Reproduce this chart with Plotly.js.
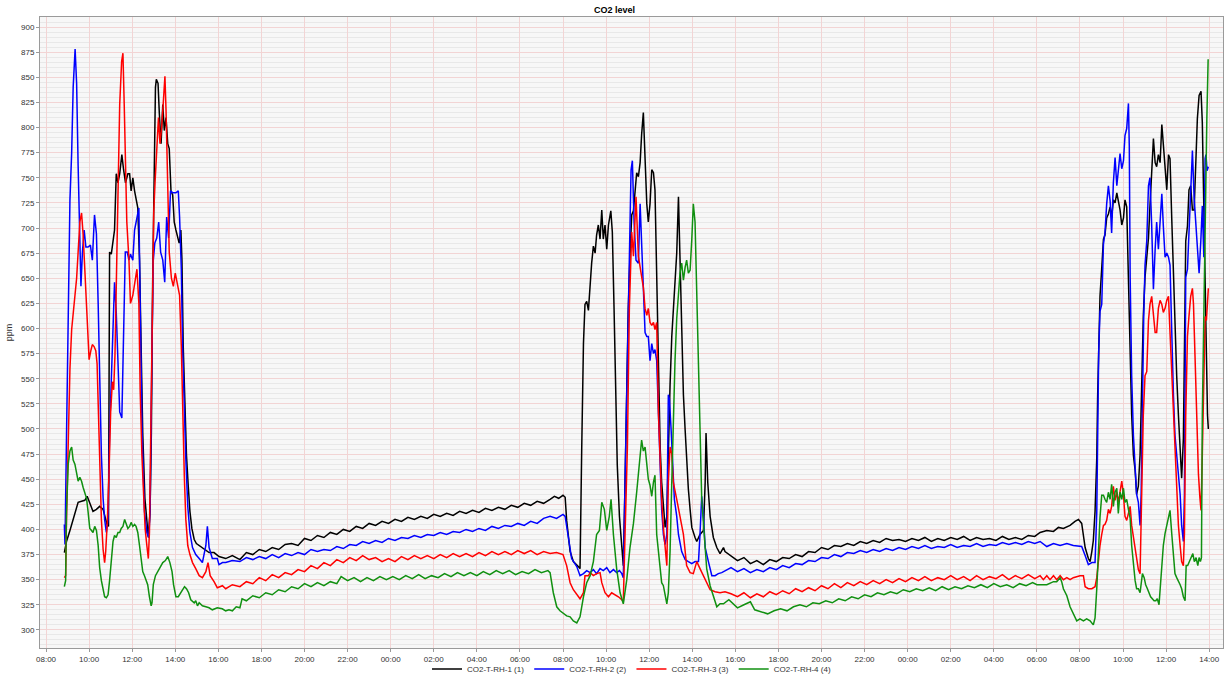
<!DOCTYPE html>
<html>
<head>
<meta charset="utf-8">
<script src="https://cdn.plot.ly/plotly-3.0.1.min.js"></script>
<style>html,body{margin:0;padding:0;background:#fff}#chart{width:1229px;height:679px}</style>
</head>
<body>
<div id="chart"></div>
<script>
// Values: [hours since day-1 00:00, ppm]
const seriesNames = ['CO2-T-RH-1 (1)', 'CO2-T-RH-2 (2)', 'CO2-T-RH-3 (3)', 'CO2-T-RH-4 (4)'];
const seriesColors = ['#000000', '#0000ff', '#ff0000', '#109010'];

const black = [
[8.85,377],[8.95,388],[9.11,399],[9.26,410],[9.38,420],[9.49,427],[9.65,428],[9.8,429],[9.91,433],[10.03,427],[10.18,418],[10.34,420],[10.49,423],[10.65,420],[10.72,414],[10.83,405],[10.9,403],[10.95,676],[11.03,674],[11.11,685],[11.18,698],[11.26,754],[11.34,745],[11.42,754],[11.52,773],[11.6,758],[11.69,745],[11.8,754],[11.88,754],[11.95,737],[12.03,750],[12.11,737],[12.18,728],[12.26,720],[12.34,668],[12.42,582],[12.49,496],[12.59,431],[12.68,405],[12.75,392],[12.83,418],[12.89,496],[12.95,646],[13.02,754],[13.08,840],[13.12,848],[13.2,844],[13.26,814],[13.34,784],[13.42,823],[13.49,797],[13.57,810],[13.65,784],[13.72,779],[13.8,737],[13.88,733],[13.95,706],[14.03,698],[14.11,690],[14.18,685],[14.26,698],[14.31,668],[14.37,582],[14.45,517],[14.52,474],[14.6,444],[14.68,418],[14.77,401],[14.88,390],[14.98,386],[15.11,384],[15.26,382],[15.42,380],[15.57,377],[15.8,377],[16.03,373],
[16.34,371],[16.65,374],[17.0,370],[17.3,377],[17.6,375],[17.9,380],[18.2,378],[18.5,382],[18.8,380],[19.1,385],[19.4,386],[19.7,384],[20.0,391],[20.3,389],[20.6,394],[20.9,392],[21.2,397],[21.5,395],[21.8,400],[22.1,398],[22.4,403],[22.7,401],[23.0,406],[23.3,404],[23.6,408],[23.9,406],[24.2,410],[24.5,408],[24.8,412],[25.1,410],[25.4,413],[25.7,411],[26.0,415],[26.3,413],[26.6,416],[26.9,414],[27.2,418],[27.5,416],[27.8,419],[28.1,417],[28.4,421],[28.7,419],[29.0,422],[29.3,420],[29.6,424],[29.9,422],[30.2,426],[30.5,424],[30.8,428],[31.1,426],[31.4,430],[31.6,433],[31.8,431],[32.0,434],[32.1,432],
[32.17,409],[32.33,378],[32.48,368],[32.71,363],[32.79,361],[32.87,482],[32.95,585],[33.02,624],[33.1,627],[33.18,618],[33.26,648],[33.33,665],[33.41,682],[33.49,675],[33.56,693],[33.64,703],[33.72,689],[33.8,718],[33.87,689],[33.95,703],[34.03,679],[34.11,703],[34.22,717],[34.29,696],[34.37,620],[34.45,534],[34.52,464],[34.62,413],[34.73,378],[34.8,364],[34.88,447],[34.96,551],[35.03,620],[35.11,672],[35.19,713],[35.27,717],[35.34,734],[35.42,755],[35.5,751],[35.58,765],[35.65,793],[35.73,815],[35.81,769],[35.89,724],[35.96,706],[36.04,724],[36.12,758],[36.2,755],[36.27,738],[36.35,655],[36.43,551],[36.51,482],[36.58,447],[36.66,420],[36.74,402],[36.82,413],[36.89,482],[36.97,544],[37.05,592],[37.12,620],[37.2,648],[37.28,675],[37.36,731],[37.43,672],[37.51,585],[37.59,534],[37.67,499],[37.74,465],[37.82,440],[37.9,420],[37.98,402],[38.13,392],[38.21,388],[38.36,395],[38.52,399],[38.6,447],[38.64,496],[38.72,447],[38.83,413],[38.98,392],[39.14,382],[39.29,376],[39.45,382],[39.52,378],
[39.8,374],[40.1,369],[40.4,372],[40.7,366],[41.0,369],[41.3,365],[41.6,370],[41.9,368],[42.2,372],[42.5,371],[42.8,375],[43.1,373],[43.4,378],[43.7,377],[44.0,382],[44.3,380],[44.6,384],[44.9,383],[45.2,386],[45.5,384],[45.8,388],[46.1,386],[46.4,389],[46.7,387],[47.0,391],[47.3,389],[47.6,390],[47.9,388],[48.2,391],[48.5,389],[48.8,392],[49.1,388],[49.4,391],[49.7,389],[50.0,392],[50.3,390],[50.6,393],[50.9,389],[51.2,392],[51.5,390],[51.8,391],[52.1,389],[52.4,393],[52.7,390],[53.0,392],[53.3,390],[53.6,394],[53.9,393],
[54.15,397],[54.46,399],[54.77,398],[55.0,402],[55.23,401],[55.54,404],[55.77,408],[55.93,410],[56.08,406],[56.24,382],[56.39,371],[56.47,368],[56.55,378],[56.62,389],[56.7,418],[56.78,471],[56.82,532],[56.87,578],[56.93,632],[57.01,660],[57.09,689],[57.16,693],[57.24,710],[57.32,714],[57.4,721],[57.47,710],[57.55,728],[57.63,725],[57.71,735],[57.86,718],[57.94,703],[58.02,710],[58.09,728],[58.17,721],[58.25,650],[58.33,561],[58.4,514],[58.48,474],[58.56,459],[58.63,435],[58.71,443],[58.79,474],[58.87,553],[58.94,612],[59.02,651],[59.1,671],[59.18,690],[59.25,722],[59.33,750],[59.41,789],[59.49,765],[59.56,761],[59.64,773],[59.72,765],[59.8,803],[59.87,785],[59.95,765],[60.03,738],[60.11,773],[60.18,769],[60.26,710],[60.34,651],[60.41,592],[60.49,553],[60.57,514],[60.65,474],[60.72,451],[60.8,490],[60.85,573],[60.91,687],[60.99,702],[61.06,738],[61.14,742],[61.22,718],[61.3,718],[61.37,757],[61.45,809],[61.53,832],[61.62,836],[61.68,805],[61.75,710],[61.81,632],[61.87,592],[61.92,514],[61.96,500]
];

const blue = [
[8.85,405],[8.88,385],[8.95,491],[9.0,569],[9.03,625],[9.11,728],[9.19,775],[9.26,840],[9.35,878],[9.42,844],[9.49,762],[9.57,702],[9.62,642],[9.69,676],[9.77,698],[9.85,681],[9.95,681],[10.06,683],[10.15,668],[10.25,713],[10.34,694],[10.42,625],[10.49,539],[10.57,474],[10.65,431],[10.72,410],[10.8,397],[10.88,410],[10.95,496],[11.03,547],[11.11,603],[11.18,646],[11.26,616],[11.34,560],[11.42,517],[11.52,511],[11.6,582],[11.68,676],[11.77,676],[11.85,668],[11.92,674],[12.03,668],[12.11,698],[12.22,711],[12.31,720],[12.37,625],[12.46,496],[12.57,418],[12.68,397],[12.77,392],[12.83,418],[12.92,582],[12.98,668],[13.05,685],[13.14,690],[13.23,706],[13.32,676],[13.42,668],[13.51,646],[13.6,711],[13.69,690],[13.78,737],[13.88,735],[14.03,735],[14.14,737],[14.2,711],[14.28,659],[14.34,582],[14.42,517],[14.49,470],[14.58,423],[14.68,397],[14.8,382],[14.95,375],[15.11,371],[15.26,367],[15.42,384],[15.49,403],[15.57,382],[15.72,371],[15.95,371],[16.03,365],[16.19,367],
[16.34,367],[16.65,369],[17.0,368],[17.3,372],[17.6,370],[17.9,373],[18.2,371],[18.5,375],[18.8,372],[19.1,376],[19.4,374],[19.7,377],[20.0,375],[20.3,380],[20.6,378],[20.9,380],[21.2,379],[21.5,383],[21.8,381],[22.1,385],[22.4,384],[22.7,388],[23.0,386],[23.3,389],[23.6,387],[23.9,391],[24.2,389],[24.5,392],[24.8,391],[25.1,394],[25.4,392],[25.7,395],[26.0,394],[26.3,397],[26.6,395],[26.9,398],[27.2,397],[27.5,400],[27.8,398],[28.1,401],[28.4,399],[28.7,403],[29.0,401],[29.3,404],[29.6,403],[29.9,406],[30.2,404],[30.5,408],[30.8,406],[31.1,411],[31.4,413],[31.7,411],[32.0,415],[32.1,413],
[32.25,392],[32.4,371],[32.64,363],[32.79,354],[32.95,356],[33.1,359],[33.26,357],[33.41,360],[33.56,356],[33.72,361],[33.87,359],[34.03,362],[34.18,357],[34.34,360],[34.49,357],[34.62,359],[34.73,356],[34.8,352],[34.88,447],[34.99,585],[35.08,689],[35.16,758],[35.22,767],[35.3,706],[35.39,668],[35.5,665],[35.58,724],[35.65,689],[35.73,648],[35.81,596],[35.89,592],[35.96,592],[36.04,568],[36.12,585],[36.2,575],[36.27,579],[36.35,568],[36.43,506],[36.51,465],[36.58,420],[36.66,395],[36.74,385],[36.82,395],[36.89,534],[36.94,530],[37.02,499],[37.09,465],[37.17,430],[37.28,413],[37.36,395],[37.51,378],[37.67,370],[37.82,368],[37.98,366],[38.13,368],[38.29,368],[38.36,395],[38.44,433],[38.52,413],[38.6,382],[38.75,368],[38.91,354],[39.06,354],[39.21,356],[39.37,357],[39.52,359],
[39.8,362],[40.1,358],[40.4,361],[40.7,357],[41.0,360],[41.3,358],[41.6,362],[41.9,360],[42.2,364],[42.5,362],[42.8,366],[43.1,365],[43.4,369],[43.7,368],[44.0,372],[44.3,371],[44.6,375],[44.9,373],[45.2,377],[45.5,376],[45.8,379],[46.1,377],[46.4,380],[46.7,378],[47.0,381],[47.3,379],[47.6,382],[47.9,380],[48.2,383],[48.5,381],[48.8,384],[49.1,381],[49.4,383],[49.7,382],[50.0,385],[50.3,382],[50.6,384],[50.9,383],[51.2,386],[51.5,383],[51.8,385],[52.1,384],[52.4,387],[52.7,385],[53.0,387],[53.3,385],[53.6,388],[53.9,386],
[54.15,388],[54.46,383],[54.77,386],[55.08,384],[55.39,386],[55.69,384],[55.93,383],[56.08,383],[56.24,374],[56.39,365],[56.55,367],[56.7,367],[56.78,417],[56.82,531],[56.87,577],[56.93,617],[57.01,624],[57.09,684],[57.16,695],[57.24,724],[57.32,742],[57.4,727],[57.47,695],[57.55,745],[57.63,770],[57.71,742],[57.78,759],[57.86,774],[57.94,759],[58.02,767],[58.09,792],[58.17,799],[58.25,824],[58.29,781],[58.33,651],[58.4,553],[58.48,494],[58.56,455],[58.63,435],[58.71,427],[58.79,404],[58.84,435],[58.9,553],[58.96,612],[59.02,663],[59.1,687],[59.18,742],[59.25,750],[59.33,702],[59.41,639],[59.49,679],[59.56,706],[59.64,679],[59.72,702],[59.8,734],[59.87,702],[59.95,671],[60.03,675],[60.11,671],[60.18,663],[60.26,592],[60.34,533],[60.41,494],[60.49,474],[60.57,455],[60.65,435],[60.72,404],[60.8,388],[60.85,435],[60.91,651],[60.99,659],[61.06,695],[61.14,722],[61.22,777],[61.3,730],[61.37,710],[61.45,679],[61.53,655],[61.61,687],[61.68,722],[61.75,671],[61.81,769],[61.85,773],[61.9,757],[61.96,761]
];

const red = [
[8.85,352],[8.91,354],[8.95,410],[9.03,496],[9.11,560],[9.19,599],[9.26,616],[9.34,633],[9.42,650],[9.49,676],[9.57,706],[9.65,715],[9.72,694],[9.8,659],[9.88,625],[9.95,590],[10.0,569],[10.08,578],[10.15,584],[10.23,582],[10.31,578],[10.37,565],[10.43,517],[10.49,461],[10.57,410],[10.65,380],[10.72,367],[10.77,378],[10.85,410],[10.92,453],[11.0,517],[11.08,547],[11.14,539],[11.2,573],[11.26,646],[11.34,762],[11.42,823],[11.51,866],[11.57,874],[11.63,823],[11.69,745],[11.75,706],[11.85,668],[11.92,625],[12.03,633],[12.12,646],[12.22,659],[12.31,625],[12.37,539],[12.45,474],[12.52,431],[12.6,401],[12.68,384],[12.75,371],[12.8,397],[12.88,539],[12.95,625],[13.0,715],[13.06,745],[13.14,775],[13.22,810],[13.29,784],[13.37,801],[13.45,827],[13.52,851],[13.57,818],[13.63,745],[13.72,676],[13.82,650],[13.91,642],[14.0,655],[14.11,642],[14.2,633],[14.28,582],[14.34,517],[14.42,453],[14.49,410],[14.58,384],[14.68,375],[14.8,367],[14.95,361],[15.11,354],[15.26,352],[15.42,358],[15.52,367],[15.62,354],[15.8,348],[15.95,342],[16.19,344],
[16.34,341],[16.65,345],[17.0,343],[17.3,348],[17.6,346],[17.9,352],[18.2,349],[18.5,355],[18.8,352],[19.1,357],[19.4,355],[19.7,360],[20.0,358],[20.3,364],[20.6,361],[20.9,367],[21.2,364],[21.5,370],[21.8,367],[22.1,372],[22.4,369],[22.7,374],[23.0,370],[23.3,372],[23.6,368],[23.9,371],[24.2,368],[24.5,373],[24.8,370],[25.1,374],[25.4,371],[25.7,374],[26.0,371],[26.3,375],[26.6,372],[26.9,376],[27.2,373],[27.5,376],[27.8,373],[28.1,377],[28.4,374],[28.7,378],[29.0,375],[29.3,378],[29.6,375],[29.9,379],[30.2,376],[30.5,379],[30.8,375],[31.1,378],[31.4,376],[31.7,377],[32.0,375],
[32.17,364],[32.33,347],[32.48,340],[32.64,335],[32.79,331],[32.95,337],[33.02,354],[33.18,354],[33.26,357],[33.41,354],[33.56,356],[33.72,357],[33.8,347],[33.95,337],[34.11,333],[34.26,337],[34.42,335],[34.57,333],[34.73,330],[34.8,328],[34.88,395],[34.99,482],[35.08,620],[35.19,696],[35.27,672],[35.39,731],[35.5,672],[35.58,662],[35.65,655],[35.73,641],[35.81,620],[35.89,613],[35.96,620],[36.04,606],[36.12,603],[36.2,606],[36.27,599],[36.35,606],[36.43,516],[36.51,465],[36.58,430],[36.66,402],[36.74,385],[36.82,364],[36.89,447],[36.97,482],[37.05,475],[37.12,447],[37.28,430],[37.43,413],[37.59,395],[37.74,364],[37.9,357],[38.05,356],[38.21,368],[38.36,361],[38.52,354],[38.67,347],[38.83,340],[39.06,338],[39.29,337],[39.52,338],
[39.8,336],[40.1,333],[40.4,337],[40.7,332],[41.0,336],[41.3,333],[41.6,338],[41.9,335],[42.2,339],[42.5,336],[42.8,341],[43.1,338],[43.4,342],[43.7,339],[44.0,344],[44.3,341],[44.6,346],[44.9,342],[45.2,347],[45.5,344],[45.8,348],[46.1,345],[46.4,349],[46.7,346],[47.0,350],[47.3,347],[47.6,351],[47.9,348],[48.2,352],[48.5,349],[48.8,353],[49.1,349],[49.4,352],[49.7,350],[50.0,354],[50.3,350],[50.6,353],[50.9,349],[51.2,354],[51.5,350],[51.8,353],[52.1,351],[52.4,355],[52.7,350],[53.0,354],[53.3,351],[53.6,355],[53.9,351],
[54.15,354],[54.3,350],[54.46,354],[54.61,350],[54.77,354],[54.92,350],[55.08,354],[55.23,350],[55.39,352],[55.54,350],[55.69,352],[56.0,354],[56.16,354],[56.24,343],[56.39,341],[56.55,341],[56.7,343],[56.78,352],[56.86,370],[56.93,384],[57.01,395],[57.09,404],[57.16,405],[57.24,409],[57.32,420],[57.4,416],[57.47,423],[57.55,443],[57.63,429],[57.71,437],[57.78,427],[57.86,437],[57.94,448],[58.02,434],[58.09,413],[58.17,409],[58.25,415],[58.33,423],[58.4,404],[58.48,392],[58.56,380],[58.63,372],[58.71,360],[58.79,356],[58.87,435],[58.94,514],[59.02,553],[59.1,557],[59.18,608],[59.25,624],[59.33,632],[59.41,616],[59.49,596],[59.56,596],[59.64,620],[59.72,628],[59.8,624],[59.87,616],[59.95,620],[60.03,628],[60.11,632],[60.14,616],[60.18,596],[60.26,553],[60.34,514],[60.41,474],[60.49,435],[60.57,404],[60.65,384],[60.72,368],[60.8,364],[60.85,396],[60.91,514],[60.99,592],[61.06,612],[61.14,632],[61.22,640],[61.27,624],[61.34,573],[61.42,514],[61.5,455],[61.57,431],[61.62,419],[61.68,474],[61.75,573],[61.81,612],[61.87,608],[61.93,632],[61.96,640]
];

const green = [
[8.85,343],[8.91,349],[8.95,418],[9.03,465],[9.11,478],[9.19,482],[9.26,469],[9.34,465],[9.42,456],[9.49,448],[9.57,452],[9.65,448],[9.72,442],[9.8,436],[9.88,431],[9.95,418],[10.03,401],[10.11,399],[10.18,397],[10.26,403],[10.34,399],[10.42,384],[10.49,362],[10.57,349],[10.65,340],[10.72,333],[10.8,332],[10.88,335],[10.95,349],[11.03,371],[11.11,388],[11.18,394],[11.26,392],[11.34,397],[11.42,397],[11.49,401],[11.57,403],[11.65,410],[11.72,405],[11.8,401],[11.88,403],[11.95,407],[12.03,403],[12.11,405],[12.18,403],[12.26,397],[12.34,384],[12.42,367],[12.49,358],[12.57,354],[12.65,349],[12.72,345],[12.8,333],[12.88,324],[12.92,327],[12.98,345],[13.08,354],[13.18,358],[13.29,362],[13.42,367],[13.54,369],[13.65,373],[13.75,367],[13.85,358],[13.92,345],[14.03,333],[14.14,333],[14.26,337],[14.34,341],[14.43,343],[14.52,341],[14.62,337],[14.72,330],[14.88,327],[14.95,329],[15.03,324],[15.11,327],[15.26,324],[15.42,323],[15.57,322],[15.72,320],[15.95,322],[16.18,321],[16.34,319],
[16.49,320],[16.65,319],[16.83,323],[17.0,322],[17.1,331],[17.3,329],[17.6,334],[17.9,332],[18.2,337],[18.5,335],[18.8,340],[19.1,338],[19.4,343],[19.7,341],[20.0,346],[20.3,343],[20.6,347],[20.9,344],[21.2,348],[21.5,346],[21.7,353],[22.0,349],[22.3,352],[22.6,348],[22.9,352],[23.2,349],[23.5,353],[23.8,350],[24.1,353],[24.4,350],[24.7,354],[25.0,351],[25.3,355],[25.6,351],[25.9,354],[26.2,352],[26.5,356],[26.8,353],[27.1,357],[27.4,354],[27.7,357],[28.0,354],[28.3,358],[28.6,355],[28.9,359],[29.2,356],[29.5,359],[29.8,355],[30.1,358],[30.4,356],[30.7,360],[31.0,357],[31.3,359],[31.4,357],
[31.55,337],[31.71,323],[31.86,319],[32.02,316],[32.17,314],[32.33,313],[32.48,309],[32.64,307],[32.79,313],[32.95,333],[33.1,347],[33.26,354],[33.41,368],[33.56,395],[33.69,399],[33.8,427],[33.92,420],[34.03,399],[34.15,413],[34.23,430],[34.34,395],[34.49,361],[34.65,337],[34.8,326],[34.96,350],[35.11,382],[35.27,406],[35.42,437],[35.58,470],[35.65,489],[35.73,478],[35.81,482],[35.89,465],[35.96,450],[36.04,444],[36.12,433],[36.2,447],[36.27,454],[36.35,395],[36.43,378],[36.51,361],[36.58,347],[36.66,344],[36.74,333],[36.82,326],[36.89,337],[36.97,378],[37.05,447],[37.12,516],[37.2,568],[37.28,610],[37.36,634],[37.43,655],[37.51,665],[37.59,648],[37.67,661],[37.74,668],[37.82,655],[37.9,658],[37.98,689],[38.05,724],[38.13,706],[38.21,637],[38.29,551],[38.36,482],[38.44,430],[38.52,406],[38.6,378],[38.67,361],[38.83,344],[38.98,333],[39.14,323],[39.29,326],[39.45,326],
[39.7,330],[39.9,326],[40.1,322],[40.4,325],[40.7,328],[40.9,320],[41.2,318],[41.5,316],[41.8,319],[42.1,321],[42.4,319],[42.7,323],[43.0,325],[43.3,323],[43.6,327],[43.9,326],[44.2,329],[44.5,327],[44.8,331],[45.1,329],[45.4,333],[45.7,331],[46.0,335],[46.3,333],[46.6,337],[46.9,335],[47.2,338],[47.5,336],[47.8,340],[48.1,338],[48.4,341],[48.7,339],[49.0,342],[49.3,339],[49.6,343],[49.9,340],[50.2,343],[50.5,341],[50.8,344],[51.1,342],[51.4,345],[51.7,342],[52.0,346],[52.3,343],[52.6,345],[52.9,342],[53.2,346],[53.5,344],[53.8,347],[54.0,345],
[54.15,345],[54.46,345],[54.77,348],[54.92,348],[55.08,352],[55.15,348],[55.23,341],[55.39,334],[55.54,323],[55.69,316],[55.85,309],[56.0,311],[56.16,309],[56.31,311],[56.47,309],[56.62,305],[56.7,312],[56.78,341],[56.86,384],[56.93,412],[57.01,434],[57.09,434],[57.16,430],[57.24,427],[57.32,437],[57.4,430],[57.47,445],[57.55,423],[57.63,437],[57.71,441],[57.78,416],[57.86,437],[57.94,430],[58.02,441],[58.09,427],[58.17,430],[58.25,420],[58.33,411],[58.4,384],[58.48,364],[58.56,349],[58.63,341],[58.71,341],[58.79,337],[58.84,349],[58.9,356],[58.98,352],[59.05,345],[59.13,341],[59.21,337],[59.28,333],[59.36,331],[59.44,329],[59.52,329],[59.59,331],[59.67,325],[59.73,341],[59.8,364],[59.87,384],[59.95,396],[60.03,404],[60.11,411],[60.18,419],[60.26,396],[60.34,372],[60.41,356],[60.49,352],[60.57,349],[60.65,345],[60.72,341],[60.8,333],[60.88,329],[60.93,364],[61.0,364],[61.08,368],[61.16,372],[61.24,376],[61.31,368],[61.39,372],[61.47,364],[61.53,372],[61.59,368],[61.64,372],[61.68,514],[61.75,632],[61.81,710],[61.89,809],[61.95,868]
];

const yTickVals = [300,325,350,375,400,425,450,475,500,525,550,575,600,625,650,675,700,725,750,775,800,825,850,875,900];

function toDate(h) {
  const d = new Date(Date.UTC(2021, 0, 4) + Math.round(h * 3600000));
  return d.toISOString().slice(0, 19).replace('T', ' ');
}

const allSeries = [black, blue, red, green];
const traces = allSeries.map((s, i) => ({
  type: 'scatter',
  mode: 'lines',
  name: seriesNames[i],
  x: s.map(p => toDate(p[0])),
  y: s.map(p => p[1]),
  line: {color: seriesColors[i], width: 1.5},
  hoverinfo: 'skip'
}));

const font = {family: 'Liberation Sans, Arial, sans-serif', size: 9, color: '#333'};

const layout = {
  width: 1229,
  height: 679,
  margin: {l: 40, r: 6, t: 17, b: 31},
  paper_bgcolor: '#ffffff',
  plot_bgcolor: '#f7f7f7',
  font: font,
  showlegend: true,
  title: {
    text: '<b>CO2 level</b>',
    font: {family: 'Liberation Sans, Arial, sans-serif', size: 9, color: '#000'},
    x: 0.5, xanchor: 'center', y: 0.986, yanchor: 'middle', yref: 'container'
  },
  xaxis: {
    type: 'date',
    range: [toDate(7.72), toDate(62.64)],
    tickformat: '%H:%M',
    tick0: toDate(0),
    dtick: 2 * 3600000,
    showgrid: true,
    gridcolor: '#f2d4d4',
    gridwidth: 1,
    zeroline: false,
    showline: true,
    linecolor: '#9a9a9a',
    linewidth: 1,
    mirror: true,
    ticks: 'outside',
    ticklen: 3,
    tickcolor: '#9a9a9a',
    tickfont: {family: 'Liberation Sans, Arial, sans-serif', size: 8, color: '#333'}
  },
  yaxis: {
    range: [282, 910],
    tickvals: yTickVals,
    ticktext: yTickVals.map(String),
    showgrid: true,
    gridcolor: '#f2d4d4',
    gridwidth: 1,
    minor: {dtick: 5, tick0: 0, showgrid: true, gridcolor: '#e8e8e8', gridwidth: 1, ticks: ''},
    zeroline: false,
    showline: true,
    linecolor: '#9a9a9a',
    linewidth: 1,
    mirror: true,
    ticks: 'outside',
    ticklen: 3,
    tickcolor: '#9a9a9a',
    tickfont: {family: 'Liberation Sans, Arial, sans-serif', size: 8, color: '#333'},
    title: {text: 'ppm', font: {family: 'Liberation Sans, Arial, sans-serif', size: 9, color: '#333'}, standoff: 6}
  },
  legend: {
    orientation: 'h',
    x: 0.5, xanchor: 'center',
    y: 0.0147, yanchor: 'middle', yref: 'container',
    font: {family: 'Liberation Sans, Arial, sans-serif', size: 8, color: '#333'},
    bgcolor: 'rgba(0,0,0,0)',
    itemwidth: 30,
    tracegroupgap: 0
  }
};

Plotly.newPlot('chart', traces, layout, {displayModeBar: false, staticPlot: true});
</script>
</body>
</html>
